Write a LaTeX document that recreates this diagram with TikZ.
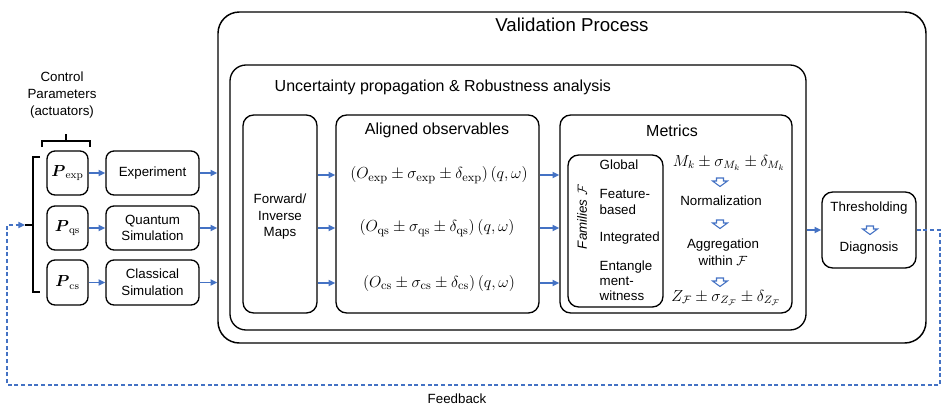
\documentclass[tikz,border=0pt]{standalone}
\usepackage{amsmath, amssymb}
\usepackage[no-math]{fontspec}
\setmainfont{Liberation Sans}
\usepackage{tikz}
\usetikzlibrary{arrows.meta, positioning, calc, fit}
\definecolor{flowblue}{HTML}{4472C4}

\begin{document}
\begin{tikzpicture}[
    x=0.75pt, y=-0.75pt,
    every node/.style={font=\fontsize{10}{12.5}\selectfont, align=center},
    box/.style={
        rectangle,
        rounded corners=6pt,
        draw=black,
        line width=1pt,
        inner sep=0pt
    },
    panel/.style={box, rounded corners=8pt},
    frame/.style={box, rounded corners=16pt, line width=1.1pt},
    title/.style={font=\fontsize{12}{14}\selectfont},
    formula/.style={font=\fontsize{13}{15}\selectfont},
    metricmath/.style={font=\fontsize{11.5}{14}\selectfont},
    famitem/.style={anchor=west, align=left, font=\fontsize{10}{11.3}\selectfont},
    bluearrow/.style={
        ->,
        >={Triangle[length=5pt, width=4.5pt]},
        line width=1.3pt,
        draw=flowblue
    },
    feedback/.style={bluearrow, dash pattern=on 3pt off 2pt},
    hollowdown/.pic={
        \draw[flowblue, fill=white, line width=0.8pt, line join=miter]
            (-3.5,-4) -- (3.5,-4) -- (3.5,-1) -- (7.5,-1) -- (0,4.5)
            -- (-7.5,-1) -- (-3.5,-1) -- cycle;
    }
]
\useasboundingbox (0,0) rectangle (947,411);

% Validation frame
\node[frame, fit={(218,12) (926,343)}] (valid) {};
\node[font=\fontsize{14}{16}\selectfont] (validtitle) at (572,25) {Validation Process};

\node[box, rounded corners=12pt, fit={(230,65) (806,330)}] (unc) {};
\node[title, anchor=west] (unctitle) at (270,87) {Uncertainty propagation \& Robustness analysis};

% Maps and observables
\node[panel, fit={(243,115) (317,313)}] (maps) {};
\node[yshift=-2pt] (mapstext) at (maps.center) {Forward/\\Inverse\\Maps};

\node[panel, fit={(336,115) (539,313)}] (aligned) {};
\node[title] (alignedtitle) at (437,130) {Aligned observables};
\node[formula] (oexp) at (439,175) {$(O_{\mathrm{exp}} \pm \sigma_{\mathrm{exp}} \pm \delta_{\mathrm{exp}})\,(q,\omega)$};
\node[formula] (oqs) at (437,228) {$(O_{\mathrm{qs}} \pm \sigma_{\mathrm{qs}} \pm \delta_{\mathrm{qs}})\,(q,\omega)$};
\node[formula] (ocs) at (439,283) {$(O_{\mathrm{cs}} \pm \sigma_{\mathrm{cs}} \pm \delta_{\mathrm{cs}})\,(q,\omega)$};

% Metrics
\node[panel, fit={(560,115) (792,313)}] (metrics) {};
\node[title] (metricstitle) at (672,131) {Metrics};
\node[panel, fit={(568,155) (663,307)}] (families) {};
\node[rotate=90, font=\itshape\fontsize{10}{12}\selectfont] (famlabel) at (582,217) {Families $\mathcal{F}$};
\foreach \fam/\y/\txt in {fglobal/165/Global, ffeature/202/{Feature-\\based}, fint/238/Integrated, fent/281/{Entangle\\ment-\\witness}}
    \node[famitem] (\fam) at (595,\y) {\txt};

\node[metricmath] (mk) at (729,163) {$M_k \pm \sigma_{M_k} \pm \delta_{M_k}$};
\node (norm) at (721,201) {Normalization};
\node (aggr) at (723,252) {Aggregation\\within $\mathcal{F}$};
\node[metricmath] (zf) at (726,298) {$Z_{\mathcal{F}} \pm \sigma_{Z_{\mathcal{F}}} \pm \delta_{Z_{\mathcal{F}}}$};
\foreach \y in {182,224,282}
    \pic at (720,\y) {hollowdown};

% Thresholding
\node[box, rounded corners=8pt, fit={(822,192) (916,268)}] (thr) {};
\node (thrtext) at (869,208) {Thresholding};
\node (diag) at (869,248) {Diagnosis};
\pic at (870,230) {hollowdown};

% Control parameters and sources
\node[font=\fontsize{10}{13}\selectfont] (ctrl) at (62,95) {Control\\Parameters\\(actuators)};
\foreach \name/\top/\bot/\txt in {exp/151/195/Experiment, qs/206/250/{Quantum\\Simulation}, cs/260/305/{Classical\\Simulation}} {
    \node[box, fit={(47,\top) (88,\bot)}] (p\name) {};
    \node[font=\fontsize{12}{14}\selectfont] at (p\name.center) {$\boldsymbol{P}_{\mathrm{\name}}$};
    \node[box, fit={(106,\top) (199,\bot)}] (s\name) {};
    \node at (s\name.center) {\txt};
    \draw[bluearrow] (p\name) -- (s\name);
    \draw[bluearrow] (s\name) -- (s\name -| valid.west);
}

% Arrows through the pipeline
\foreach \row in {oexp,oqs,ocs} {
    \draw[bluearrow] (maps.east |- \row) -- (aligned.west |- \row);
    \draw[bluearrow] (aligned.east |- \row) -- (metrics.west |- \row);
}
\draw[bluearrow] (unc.east |- thr) -- (thr.west);

% Brackets
\draw[line width=0.8pt] (42,147) |- (90,141) -- (90,147);
\draw[line width=0.8pt] (66,141) -- (66,134);
\draw[line width=0.8pt] (40,157) -| (33,292) -- (40,292);
\coordinate (bracetip) at (25,225);
\draw[line width=0.8pt] (33,225) -- (bracetip);

% Feedback loop
\coordinate (fbright) at (940,385);
\coordinate (fbleft) at (7,385);
\draw[feedback] (thr.east) -| (fbright) -- (fbleft) |- (bracetip);
\node (fblabel) at (457,399) {Feedback};

\end{tikzpicture}
\end{document}
